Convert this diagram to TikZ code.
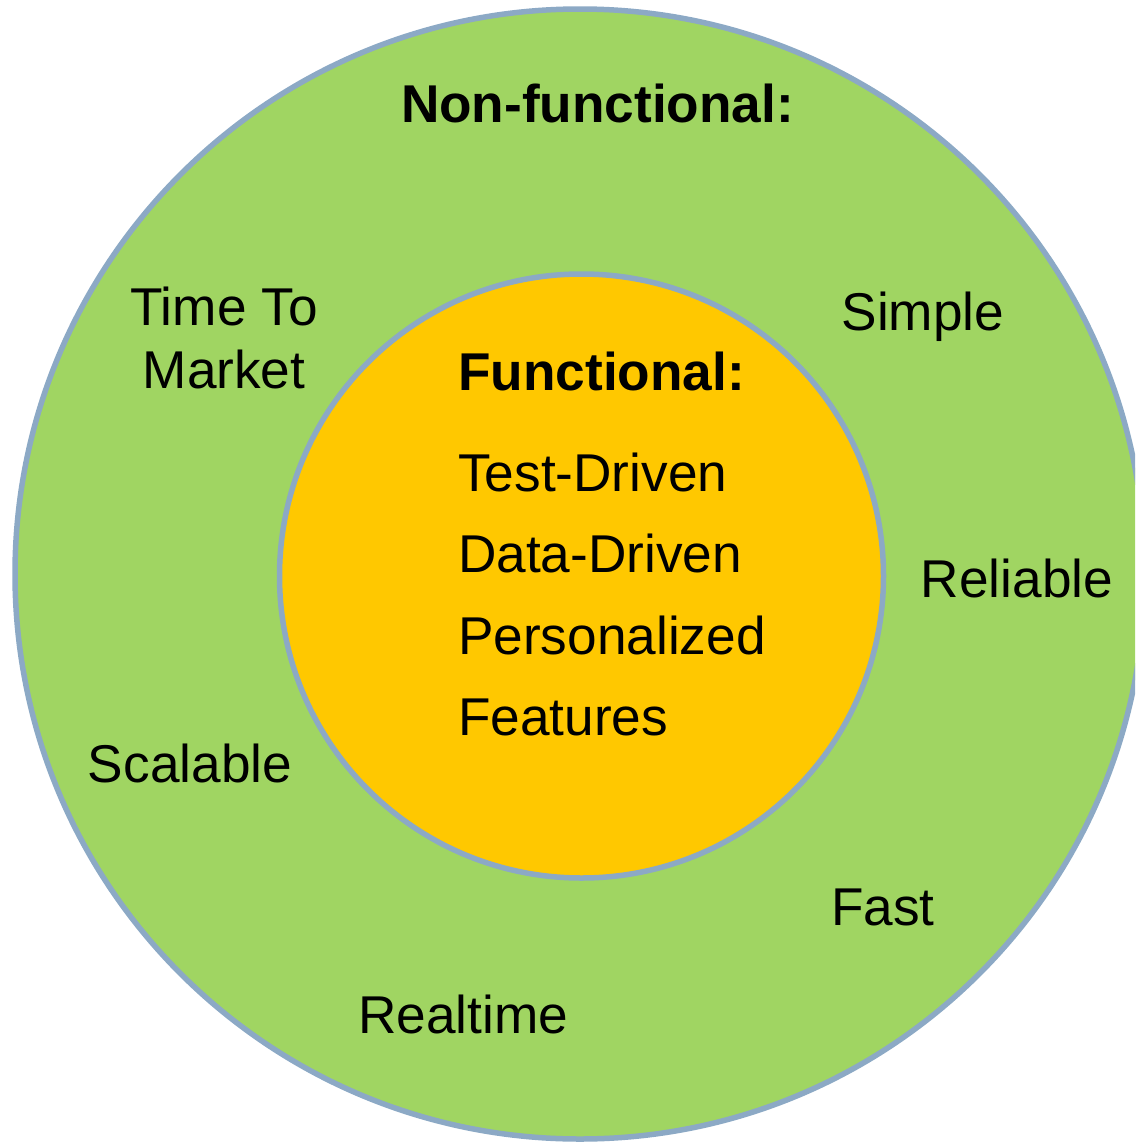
\documentclass[tikz,border=0pt]{standalone}
\usepackage{fontspec}
\setmainfont{Liberation Sans}
\definecolor{outergreen}{RGB}{160,213,98}
\definecolor{innerorange}{RGB}{255,200,0}
\definecolor{ringblue}{RGB}{140,169,197}
\tikzset{
  lbl/.style={anchor=base, inner sep=0pt, font=\fontsize{53.2}{62}\selectfont, text=black},
  lblbold/.style={lbl, font=\fontsize{53.2}{62}\selectfont\bfseries},
  ring/.style={draw=ringblue, line width=5.5pt}
}
\begin{document}
\begin{tikzpicture}[x=1pt,y=-1pt]
\useasboundingbox (0,0) rectangle (1135,1143);
\begin{scope}
\clip (0,0) rectangle (1135,1143);
\path[ring, fill=outergreen] (580,574) circle[radius=565];
\path[ring, fill=innerorange] (581.5,576) circle[radius=302];
\end{scope}
\node[lblbold] (nonfunc) at (597.5,122) {Non-functional:};
\node[lbl] (time) at (224,325) {Time To};
\node[lbl] (market) at (224,388) {Market};
\node[lbl] (simple) at (923,330) {Simple};
\node[lbl] (reliable) at (1017,597) {Reliable};
\node[lbl] (scalable) at (190,782) {Scalable};
\node[lbl] (fast) at (883,925) {Fast};
\node[lbl] (realtime) at (463,1033) {Realtime};
\node[lblbold, anchor=base west] (func) at (458,390) {Functional:};
\node[lbl, anchor=base west] (test) at (458,491) {Test-Driven};
\node[lbl, anchor=base west] (data) at (458,572) {Data-Driven};
\node[lbl, anchor=base west] (pers) at (458,654) {Personalized};
\node[lbl, anchor=base west] (feat) at (458,735) {Features};
\end{tikzpicture}
\end{document}
